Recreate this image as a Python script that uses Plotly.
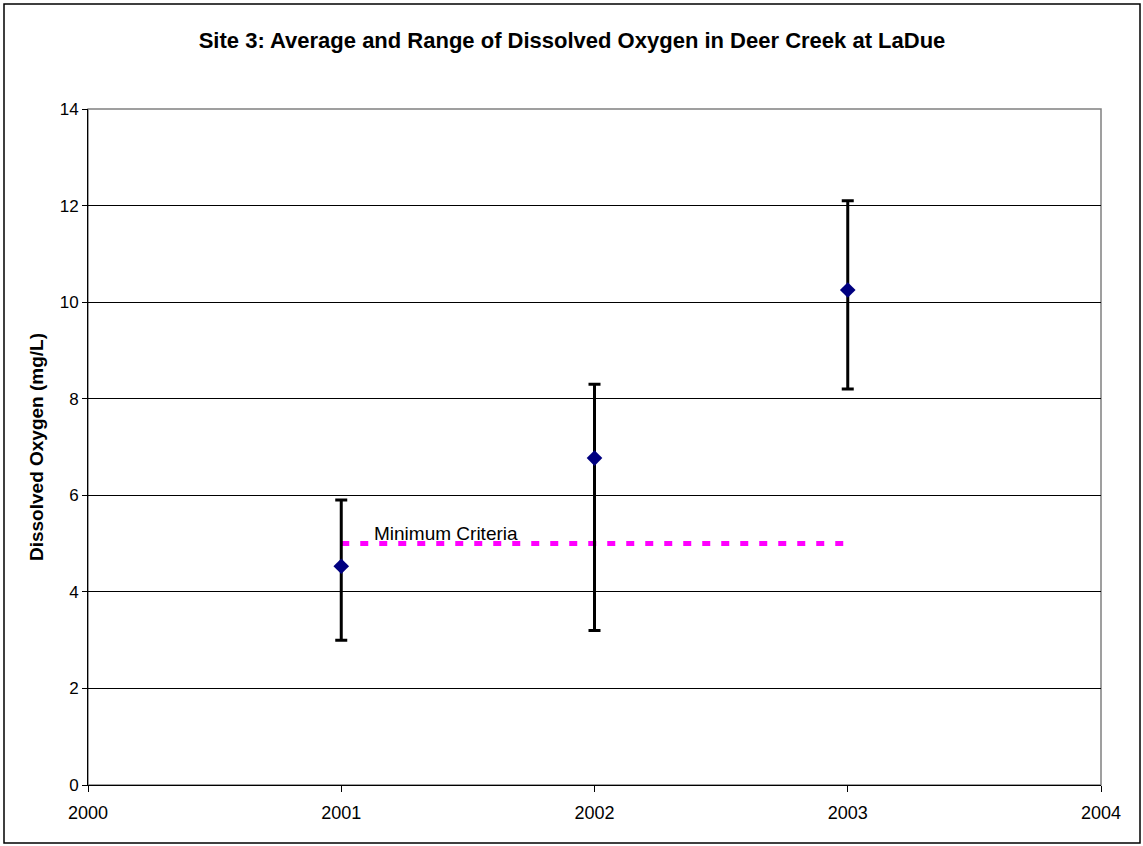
import plotly.graph_objects as go

years = [2001, 2002, 2003]
avg_do = [4.53, 6.77, 10.25]
max_do = [5.9, 8.3, 12.1]
min_do = [3.0, 3.2, 8.2]
criteria_x = [2001, 2003]
criteria_y = [5, 5]

err_plus = [mx - a for mx, a in zip(max_do, avg_do)]
err_minus = [a - mn for mn, a in zip(min_do, avg_do)]

L, R, T, B = 88, 1101, 109, 785
PW, PH = R - L, B - T
FONT = "Arial, Liberation Sans, sans-serif"

fig = go.Figure()
fig.add_trace(go.Scatter(
    x=criteria_x, y=criteria_y, mode="lines",
    line=dict(color="#FF00FF", width=5, dash="8px,11px"),
    showlegend=False, hoverinfo="skip"))
fig.add_trace(go.Scatter(
    x=years, y=avg_do, mode="markers",
    marker=dict(symbol="diamond", size=12, color="#000080"),
    error_y=dict(type="data", symmetric=False, array=err_plus, arrayminus=err_minus,
                 color="black", thickness=3, width=6),
    showlegend=False))

fig.add_annotation(x=2001.12, y=5, xref="x", yref="y", text="Minimum Criteria",
                   showarrow=False, xanchor="left", yanchor="bottom", yshift=-2,
                   font=dict(family=FONT, size=19, color="black"))

# plot area frame (gray)
fig.add_shape(type="rect", xref="paper", yref="paper", x0=0, x1=1, y0=0, y1=1,
              line=dict(color="#808080", width=1.5), layer="below")
# outer chart border
fig.add_shape(type="rect", xref="paper", yref="paper",
              x0=(4 - L) / PW, x1=(1140 - L) / PW,
              y0=(B - 843) / PH, y1=(B - 4) / PH,
              line=dict(color="black", width=1.5), layer="below")

fig.update_layout(
    width=1143, height=846,
    margin=dict(l=L, r=1143 - R, t=T, b=846 - B),
    paper_bgcolor="white", plot_bgcolor="white",
    font=dict(family=FONT, size=17, color="black"),
    title=dict(text="<b>Site 3: Average and Range of Dissolved Oxygen in Deer Creek at LaDue</b>",
               x=(572 - L) / PW, xref="paper", xanchor="center", y=1 - 40 / 846, yanchor="middle",
               font=dict(size=22, family=FONT)),
    xaxis=dict(range=[2000, 2004], dtick=1, tick0=2000, showgrid=False,
               showline=True, linecolor="black", linewidth=1,
               ticks="outside", ticklen=6, tickcolor="black", ticklabelstandoff=5,
               tickfont=dict(size=18), zeroline=False),
    yaxis=dict(range=[0, 14], dtick=2, showgrid=True, gridcolor="black", gridwidth=1,
               showline=True, linecolor="black", linewidth=1,
               ticks="outside", ticklen=5, tickcolor="black",
               tickfont=dict(size=17), zeroline=False,
               title=dict(text="<b>Dissolved Oxygen (mg/L)</b>", font=dict(size=19), standoff=11)),
)

fig.write_html("out.html", config={"displayModeBar": False},
               post_script="document.body.style.margin='0';document.body.style.overflow='hidden';")
